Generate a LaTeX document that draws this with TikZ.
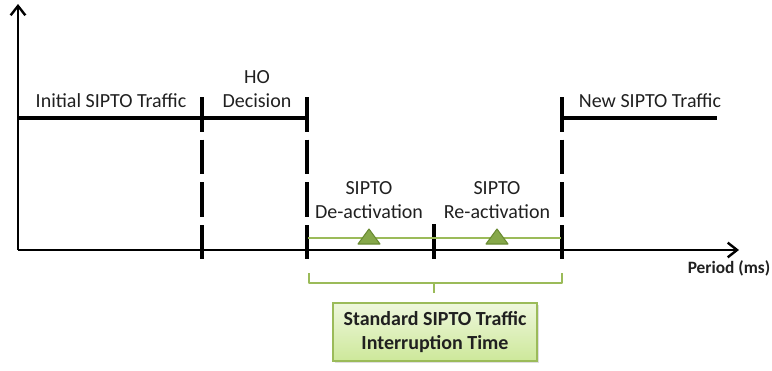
\documentclass[tikz,border=0pt]{standalone}
\usepackage{fontspec}
\setmainfont{Carlito}
\usetikzlibrary{arrows.meta,shapes.geometric,shadows}
\definecolor{gline}{HTML}{9BBB59}
\definecolor{gtri}{HTML}{86A84A}
\definecolor{gtrid}{HTML}{6A8B33}
\definecolor{boxtop}{HTML}{EEF7DC}
\definecolor{boxbot}{HTML}{CDE89A}
\definecolor{txt}{HTML}{202020}
\begin{document}
\begin{tikzpicture}[x=0.75pt,y=-0.75pt,
  lbl/.style={font=\fontsize{15}{18}\selectfont, text=txt, inner sep=0pt, align=center},
  axis/.style={line width=2.2pt, -{Straight Barb[length=7pt,width=11pt,line width=1.8pt]}},
  level/.style={line width=2.8pt},
  vdash/.style={line width=2.8pt, dash pattern=on 26pt off 6pt},
  gl/.style={gline, line width=2pt},
  tri/.style={fill=gtri, draw=gtrid, line width=0.8pt, line join=round}]
\useasboundingbox (0,0) rectangle (772,371);
% coordinates
\coordinate (o) at (18,250);
\coordinate (ytop) at (18,4);
\coordinate (xend) at (739,250);
% axes
\draw[axis] (o) -- (ytop);
\draw[axis] (o) -- (xend);
% traffic levels
\coordinate (l0) at (18,118);
\coordinate (l1) at (202,118);
\coordinate (l2) at (307,118);
\coordinate (l3) at (562,118);
\coordinate (l4) at (717,118);
\draw[level] (l0) -- (l1) -- (l2);
\draw[level] (l3) -- (l4);
% dashed verticals
\coordinate (d1t) at (202,97); \coordinate (d1b) at (202,259);
\coordinate (d2t) at (307,97); \coordinate (d2b) at (307,259);
\coordinate (d3t) at (562,97); \coordinate (d3b) at (562,259);
\draw[vdash] (d1t) -- (d1b);
\draw[vdash] (d2t) -- (d2b);
\draw[vdash] (d3t) -- (d3b);
\coordinate (mt) at (434,224); \coordinate (mb) at (434,259);
\draw[level] (mt) -- (mb);
% green line
\coordinate (g1) at (308,238);
\coordinate (g2) at (561,238);
\draw[gl] (g1) -- (g2);
\draw[tri] (369,229) -- (380,244) -- (358,244) -- cycle;
\draw[tri] (497,229) -- (508,244) -- (486,244) -- cycle;
% brace
\coordinate (b1) at (309,273);
\coordinate (b2) at (309,283);
\coordinate (b3) at (562,283);
\coordinate (b4) at (562,273);
\coordinate (bm) at (434,283);
\coordinate (bt) at (434,293);
\draw[gl, line width=2.2pt, line join=round] (b1) -- (b2) -- (b3) -- (b4);
\draw[gl, line width=2.2pt] (bm) -- (bt);
% box
\node[draw=gline, line width=1pt, top color=boxtop, bottom color=boxbot,
      drop shadow={shadow xshift=1.2pt, shadow yshift=-1.2pt, opacity=0.25},
      minimum width=204*0.75pt, minimum height=58*0.75pt, inner sep=0pt,
      font=\bfseries\fontsize{15}{18}\selectfont, text=txt, align=center]
      (box) at (435,332) {Standard SIPTO Traffic\\Interruption Time};
% labels
\node[lbl] (n1) at (111,101) {Initial SIPTO Traffic};
\node[lbl] (n2) at (257,89) {HO\\Decision};
\node[lbl] (n3) at (369,200) {SIPTO\\De-activation};
\node[lbl] (n4) at (497,200) {SIPTO\\Re-activation};
\node[lbl] (n5) at (650,101) {New SIPTO Traffic};
\node[lbl, font=\bfseries\fontsize{13}{15}\selectfont] (n6) at (729,268) {Period (ms)};
\end{tikzpicture}
\end{document}
